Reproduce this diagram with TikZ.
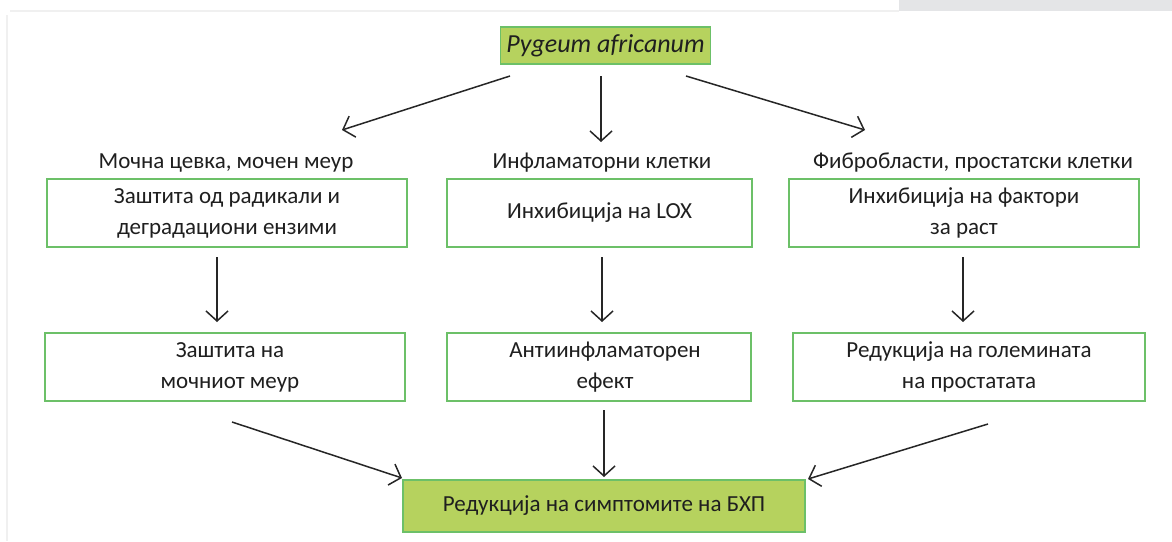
\documentclass[tikz,border=0pt]{standalone}
\usepackage{fontspec}
\setmainfont{Carlito}
\usetikzlibrary{arrows.meta}
\definecolor{boxline}{RGB}{108,192,104}
\definecolor{boxfill}{RGB}{182,210,94}
\definecolor{topbar}{RGB}{228,229,231}
\definecolor{edgeline}{RGB}{240,240,240}
\begin{document}
\begin{tikzpicture}[x=1pt,y=-1pt,
  every node/.style={font=\fontsize{23}{31}\selectfont, text=black!88, align=center, inner sep=0pt},
  plainbox/.style={draw=boxline, line width=1.6pt, fill=white},
  keybox/.style={draw=boxline, line width=1.6pt, fill=boxfill},
  arr/.style={draw=black!85, line width=1.5pt, -{Straight Barb[length=10pt,width=22pt,line width=1.5pt]}}
]
\useasboundingbox (0,0) rectangle (1172,541);
% page strip along the top edge
\fill[white] (0,0) rectangle (1172,541);
\fill[topbar] (899,0) rectangle (1172,10.5);
\draw[edgeline, line width=1.5pt] (10,11) -- (899,11);
\draw[edgeline, line width=1.5pt] (7,15) -- (7,541);

% source box
\node[keybox, minimum width=210pt, minimum height=37pt, font=\fontsize{26}{30}\selectfont\itshape] (src) at (605.5,45.5) {Pygeum africanum};

% tissue labels
\node (lab1) at (226,163) {Мочна цевка, мочен меур};
\node (lab2) at (602,163) {Инфламаторни клетки};
\node (lab3) at (973,163) {Фибробласти, простатски клетки};

% first row of effects
\node[plainbox, minimum width=360pt, minimum height=68pt] (a1) at (227,213) {Заштита од радикали и\\ деградациони ензими};
\node[plainbox, minimum width=305pt, minimum height=68pt] (b1) at (599.5,213) {Инхибиција на LOX};
\node[plainbox, minimum width=350pt, minimum height=68pt] (c1) at (964,213) {Инхибиција на фактори\\ за раст};

% second row of effects
\node[plainbox, minimum width=360pt, minimum height=68pt] (a2) at (225,367) {\hspace*{10pt}Заштита на\\ \hspace*{10pt}мочниот меур};
\node[plainbox, minimum width=304pt, minimum height=68pt] (b2) at (599,367) {\hspace*{12pt}Антиинфламаторен\\ \hspace*{12pt}ефект};
\node[plainbox, minimum width=352pt, minimum height=68pt] (c2) at (969,367) {Редукција на големината\\ на простатата};

% outcome box
\node[keybox, minimum width=402pt, minimum height=52pt] (out) at (604,506) {Редукција на симптомите на БХП};

% connector end points
\coordinate (s1) at (510,76);  \coordinate (t1) at (342,130);
\coordinate (s2) at (601,76);  \coordinate (t2) at (601,142);
\coordinate (s3) at (686,76);  \coordinate (t3) at (865,130);
\coordinate (u1) at (217,257); \coordinate (v1) at (217,322);
\coordinate (u2) at (602,257); \coordinate (v2) at (602,322);
\coordinate (u3) at (963,257); \coordinate (v3) at (963,322);
\coordinate (w1) at (232,422); \coordinate (z1) at (402,478);
\coordinate (w2) at (604,410); \coordinate (z2) at (604,477);
\coordinate (w3) at (988,424); \coordinate (z3) at (808,479);

\draw[arr] (s1) -- (t1);
\draw[arr] (s2) -- (t2);
\draw[arr] (s3) -- (t3);
\draw[arr] (u1) -- (v1);
\draw[arr] (u2) -- (v2);
\draw[arr] (u3) -- (v3);
\draw[arr] (w1) -- (z1);
\draw[arr] (w2) -- (z2);
\draw[arr] (w3) -- (z3);
\end{tikzpicture}
\end{document}
